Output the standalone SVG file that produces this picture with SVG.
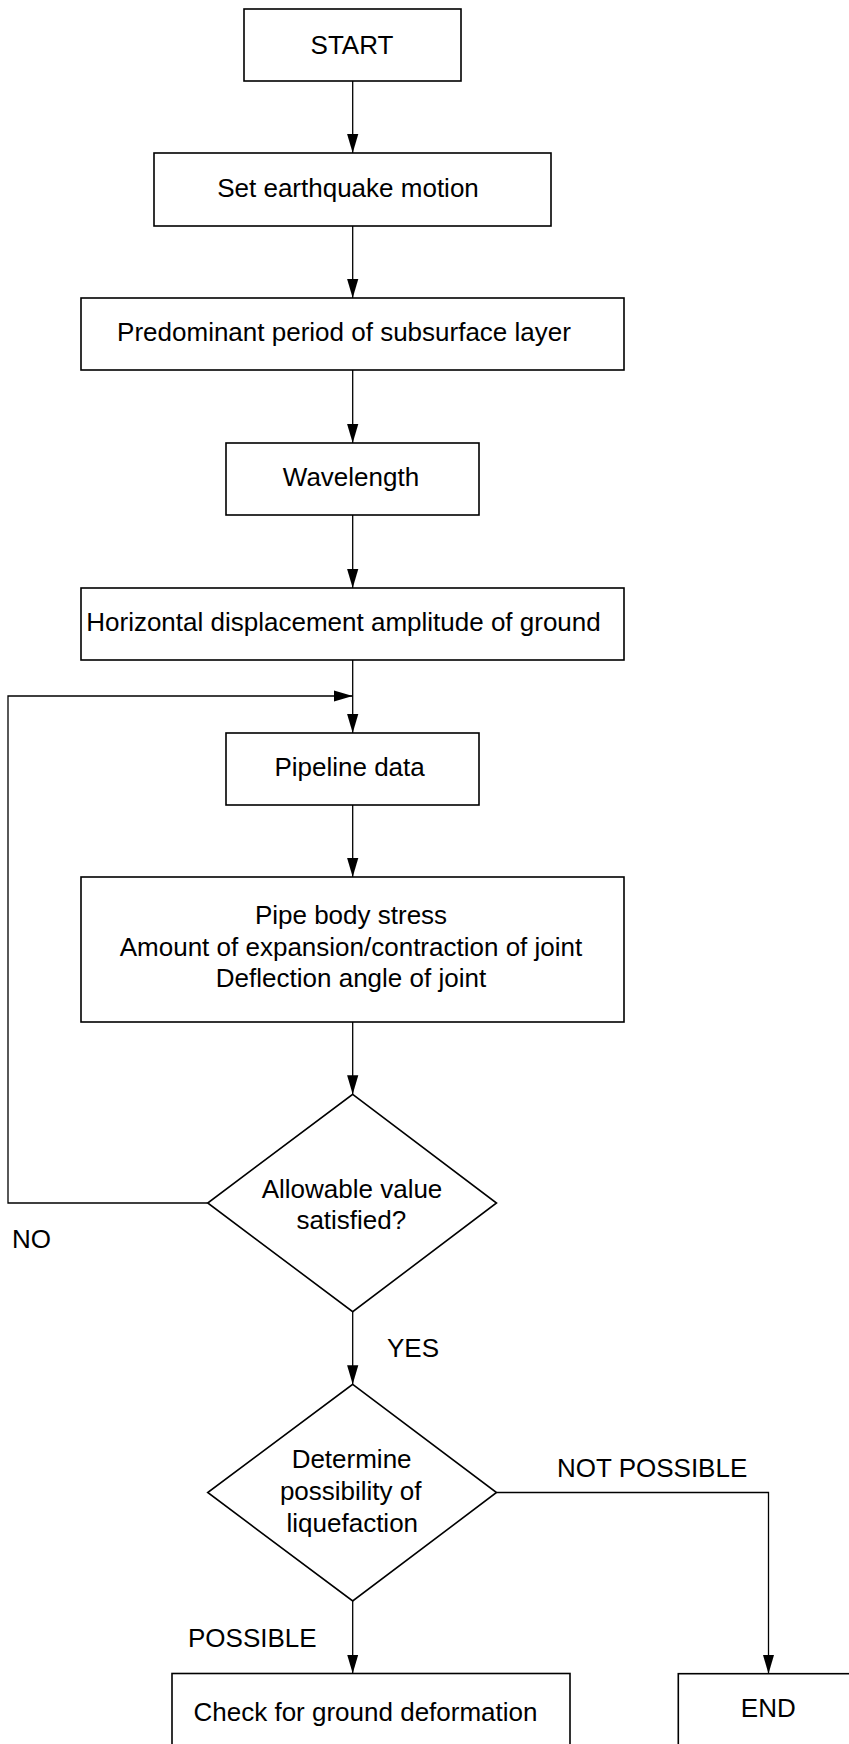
<svg xmlns="http://www.w3.org/2000/svg" width="849" height="1744" viewBox="0 0 849 1744">
<style>
  .box { fill: #ffffff; stroke: #000000; stroke-width: 1.6; }
  .con { fill: none; stroke: #000000; stroke-width: 1.3; }
  .t { font-family: "Liberation Sans", Arial, sans-serif; font-size: 26px; fill: #000000; }
  .c { text-anchor: middle; }
</style>
<defs>
  <marker id="arr" markerUnits="userSpaceOnUse" viewBox="0 0 19 12" refX="19" refY="6" markerWidth="19" markerHeight="12" orient="auto">
    <path d="M0,0.4 L19,6 L0,11.6 z" fill="#000000"/>
  </marker>
</defs>
<rect x="0" y="0" width="849" height="1744" fill="#ffffff"/>

<g id="connectors">
  <line class="con" x1="352.7" y1="81" x2="352.7" y2="153" marker-end="url(#arr)"/>
  <line class="con" x1="352.7" y1="226" x2="352.7" y2="298" marker-end="url(#arr)"/>
  <line class="con" x1="352.7" y1="370" x2="352.7" y2="443" marker-end="url(#arr)"/>
  <line class="con" x1="352.7" y1="515" x2="352.7" y2="588" marker-end="url(#arr)"/>
  <line class="con" x1="352.7" y1="660" x2="352.7" y2="733" marker-end="url(#arr)"/>
  <line class="con" x1="352.7" y1="805" x2="352.7" y2="877" marker-end="url(#arr)"/>
  <line class="con" x1="352.7" y1="1022" x2="352.7" y2="1094.3" marker-end="url(#arr)"/>
  <line class="con" x1="352.7" y1="1311.7" x2="352.7" y2="1384.3" marker-end="url(#arr)"/>
  <line class="con" x1="352.7" y1="1601" x2="352.7" y2="1673.5" marker-end="url(#arr)"/>
  <polyline class="con" points="207.7,1203 8,1203 8,696 352.7,696" marker-end="url(#arr)"/>
  <polyline class="con" points="496.5,1492.5 768.5,1492.5 768.5,1673.7" marker-end="url(#arr)"/>
</g>

<g id="start">
  <rect class="box" x="244" y="9" width="217" height="72"/>
  <text class="t c" x="352" y="54">START</text>
</g>
<g id="set-motion">
  <rect class="box" x="154" y="153" width="397" height="73"/>
  <text class="t c" x="348" y="197">Set earthquake motion</text>
</g>
<g id="predominant">
  <rect class="box" x="81" y="298" width="543" height="72"/>
  <text class="t c" x="344" y="341">Predominant period of subsurface layer</text>
</g>
<g id="wavelength">
  <rect class="box" x="226" y="443" width="253" height="72"/>
  <text class="t c" x="351" y="486">Wavelength</text>
</g>
<g id="horizontal">
  <rect class="box" x="81" y="588" width="543" height="72"/>
  <text class="t c" x="343.5" y="631">Horizontal displacement amplitude of ground</text>
</g>
<g id="pipeline">
  <rect class="box" x="226" y="733" width="253" height="72"/>
  <text class="t c" x="349.6" y="776">Pipeline data</text>
</g>
<g id="stress">
  <rect class="box" x="81" y="877" width="543" height="145"/>
  <text class="t c" x="351" y="924">Pipe body stress</text>
  <text class="t c" x="351" y="956">Amount of expansion/contraction of joint</text>
  <text class="t c" x="351" y="987">Deflection angle of joint</text>
</g>
<g id="allowable">
  <polygon class="box" points="352.7,1094.3 496.5,1203 352.7,1311.7 207.7,1203"/>
  <text class="t c" x="352" y="1198">Allowable value</text>
  <text class="t c" x="351.3" y="1229">satisfied?</text>
</g>
<g id="liquefaction">
  <polygon class="box" points="352.7,1384.3 496.5,1492.5 352.7,1601 207.7,1492.5"/>
  <text class="t c" x="351.6" y="1468">Determine</text>
  <text class="t c" x="350.7" y="1500">possibility of</text>
  <text class="t c" x="352.3" y="1532">liquefaction</text>
</g>
<g id="check">
  <rect class="box" x="172" y="1673.5" width="398" height="100"/>
  <text class="t c" x="365.5" y="1721">Check for ground deformation</text>
</g>
<g id="end">
  <rect class="box" x="678.3" y="1673.7" width="180" height="100"/>
  <text class="t c" x="768.3" y="1717">END</text>
</g>

<g id="labels">
  <text class="t" x="12" y="1248">NO</text>
  <text class="t" x="387" y="1357">YES</text>
  <text class="t" x="557" y="1477">NOT POSSIBLE</text>
  <text class="t" x="188" y="1647">POSSIBLE</text>
</g>
</svg>
